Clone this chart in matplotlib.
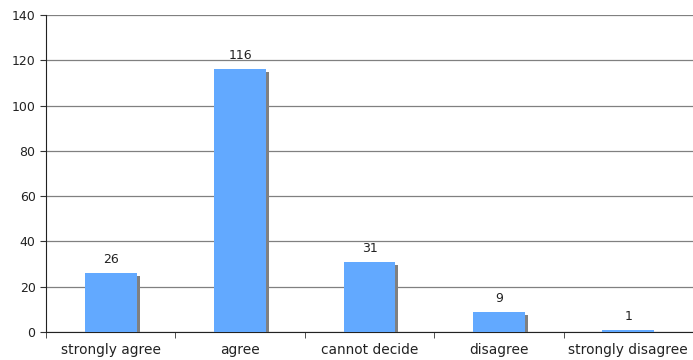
import matplotlib
matplotlib.use('Agg')
import matplotlib.pyplot as plt
import matplotlib.patheffects as pe

categories = ["strongly agree", "agree", "cannot decide", "disagree", "strongly disagree"]
counts = [26, 116, 31, 9, 1]

BAR_COLOR = "#62a9ff"
SHADOW_COLOR = "#808080"
GRID_COLOR = "#808080"

fig = plt.figure(figsize=(6.93, 3.6), dpi=100)
ax = fig.add_axes([46 / 693, 28 / 360, 1 - 46 / 693, 317 / 360])

x = range(len(categories))
bars = ax.bar(x, counts, width=0.4, color=BAR_COLOR, zorder=3,
              path_effects=[pe.SimplePatchShadow(offset=(2.2, -2.2), shadow_rgbFace=SHADOW_COLOR, alpha=1.0),
                            pe.Normal()])

for xi, v in zip(x, counts):
    ax.annotate(str(v), (xi, v), xytext=(0, 5), textcoords="offset points",
                ha="center", va="bottom", fontsize=9, color="#222222")

ax.set_xlim(-0.5, len(categories) - 0.5)
ax.set_ylim(0, 140)
ax.set_yticks(range(0, 141, 20))
ax.yaxis.grid(True, color=GRID_COLOR, linewidth=0.9, zorder=0)
ax.set_axisbelow(True)

# category labels centred, tick marks between categories
ax.set_xticks(list(x))
ax.set_xticklabels(categories, fontsize=9.9, color="#222222")
ax.tick_params(axis="x", length=0, pad=8)
ax.set_xticks([i - 0.5 for i in range(len(categories) + 1)], minor=True)
ax.tick_params(axis="x", which="minor", length=4, direction="out", color="#333333")
ax.tick_params(axis="y", length=4, direction="out", labelsize=9, labelcolor="#222222", color="#333333")

ax.spines["top"].set_visible(False)
ax.spines["right"].set_visible(False)
ax.spines["left"].set_color("#222222")
ax.spines["bottom"].set_color("#222222")

plt.savefig("out.png", dpi=100)
